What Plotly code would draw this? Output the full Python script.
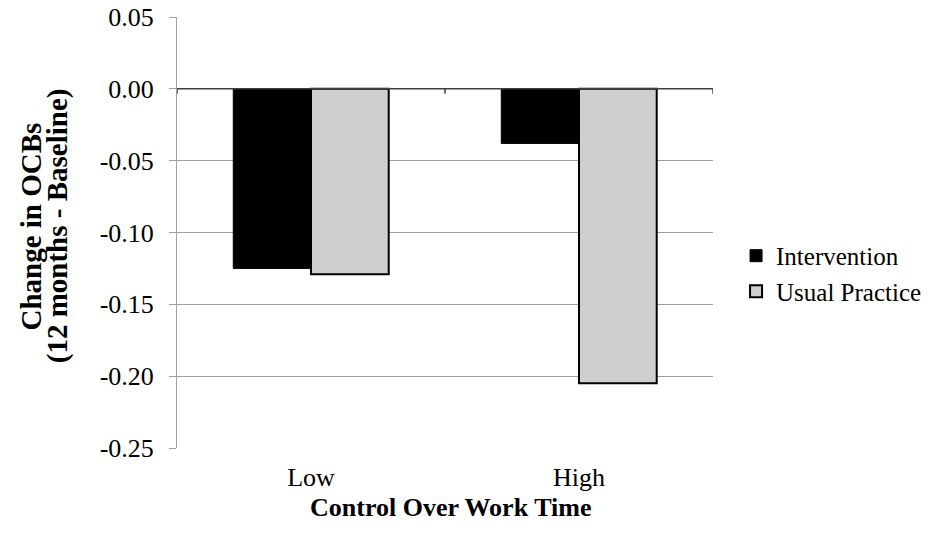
import plotly.graph_objects as go

categories = ["Low", "High"]
intervention = [-0.125, -0.038]
usual_practice = [-0.129, -0.205]
y_ticks = [0.05, 0.0, -0.05, -0.10, -0.15, -0.20, -0.25]
y_title_lines = ["Change in OCBs", "(12 months - Baseline)"]
x_title = "Control Over Work Time"

FONT = "Liberation Serif"
FS = 26

fig = go.Figure()
fig.add_trace(go.Bar(x=categories, y=intervention, name="Intervention",
                     marker=dict(color="#000000", line=dict(color="#000000", width=1))))
fig.add_trace(go.Bar(x=categories, y=usual_practice, name="Usual Practice",
                     marker=dict(color="#D0CED0", line=dict(color="#000000", width=2))))

# zero line with category tick marks
fig.add_shape(type="line", xref="paper", yref="y", x0=0, x1=1, y0=0, y1=0,
              line=dict(color="#404040", width=1.5), layer="above")
for xb in [-0.5, 0.5, 1.5]:
    fig.add_shape(type="line", xref="x", yref="y", x0=xb, x1=xb, y0=0, y1=-0.0035,
                  line=dict(color="#404040", width=1.5), layer="above")

# axis titles as annotations (tight line spacing like the original)
for xp, txt in zip([-0.2715, -0.2235], y_title_lines):
    fig.add_annotation(text=f"<b>{txt}</b>", xref="paper", yref="paper", x=xp, y=0.515,
                       xanchor="center", yanchor="middle", textangle=-90, showarrow=False,
                       font=dict(family=FONT, size=29, color="black"))
fig.add_annotation(text=f"<b>{x_title}</b>", xref="paper", yref="paper", x=0.511, y=-0.139,
                   xanchor="center", yanchor="middle", showarrow=False,
                   font=dict(family=FONT, size=FS, color="black"))

fig.update_layout(
    width=933, height=533,
    margin=dict(l=177, r=220, t=17, b=85, autoexpand=False),
    paper_bgcolor="white", plot_bgcolor="white",
    font=dict(family=FONT, size=FS, color="black"),
    barmode="group", bargap=0.42, bargroupgap=0,
    showlegend=True,
    legend=dict(x=1.043, y=0.405, xanchor="left", yanchor="middle",
                font=dict(family=FONT, size=25), itemwidth=30,
                tracegroupgap=0, bgcolor="rgba(0,0,0,0)"),
    xaxis=dict(showline=False, showgrid=False, ticks="", zeroline=False, automargin=False,
               range=[-0.5, 1.5], tickfont=dict(size=FS), ticklabelstandoff=11),
    yaxis=dict(range=[-0.25, 0.05], tickvals=y_ticks, automargin=False,
               ticktext=[f"{v:.2f}" for v in y_ticks],
               showgrid=True, gridcolor="#A0A0A0", gridwidth=1,
               showline=True, linecolor="#A0A0A0", linewidth=1,
               ticks="outside", ticklen=7, tickcolor="#A0A0A0",
               zeroline=False, tickfont=dict(size=FS), ticklabelstandoff=10,
               ticklabeloverflow="allow"),
)

fig.write_html("out.html", config={"displayModeBar": False},
               post_script="document.body.style.margin='0px';")
